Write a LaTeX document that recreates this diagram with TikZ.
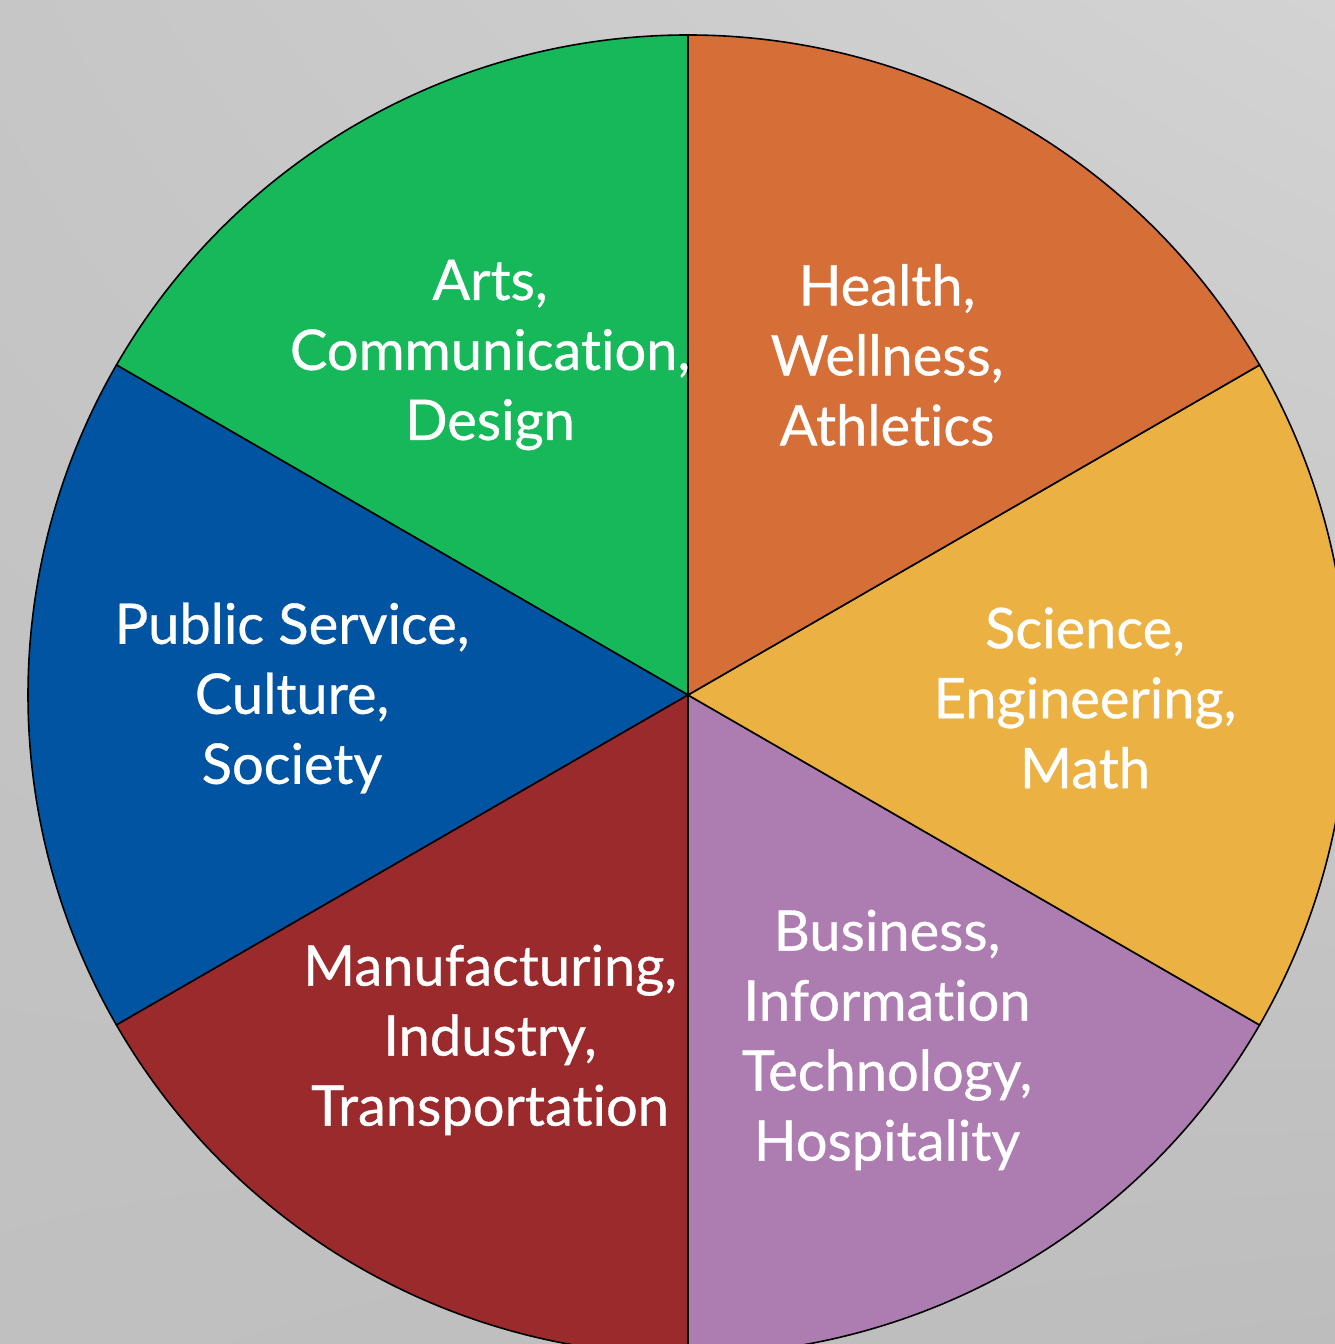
\documentclass[tikz,border=0pt]{standalone}
\usepackage{fontspec}
\setmainfont{Lato}[FakeBold=0.6,Ligatures={NoCommon,NoDiscretionary}]
\usetikzlibrary{shadings}
\definecolor{cgreen}{HTML}{17B85A}
\definecolor{corange}{HTML}{D56F37}
\definecolor{cyellow}{HTML}{EBB143}
\definecolor{cpurple}{HTML}{AD7CB0}
\definecolor{cred}{HTML}{9A2A2B}
\definecolor{cblue}{HTML}{0054A2}
\definecolor{bgtl}{HTML}{C6C6C6}
\definecolor{bgtr}{HTML}{D3D3D3}
\definecolor{bgbl}{HTML}{C0C0C0}
\definecolor{bgbr}{HTML}{BDBDBD}
\begin{document}
\begin{tikzpicture}[x=1pt,y=1pt,
  sector/.style={draw=black,line width=1.6pt,line join=round},
  lbl/.style={text=white,align=center,font=\fontsize{56}{70}\selectfont,inner sep=0pt}]
\useasboundingbox (0,0) rectangle (1335,1344);
\clip (0,0) rectangle (1335,1344);
\shade[upper left=bgtl,upper right=bgtr,lower left=bgbl,lower right=bgbr] (0,0) rectangle (1335,1344);
\coordinate (O) at (688,649);
\filldraw[sector,fill=cgreen] (O) -- ++(90:660) arc[start angle=90,end angle=150,radius=660] -- cycle;
\filldraw[sector,fill=cblue] (O) -- ++(150:660) arc[start angle=150,end angle=210,radius=660] -- cycle;
\filldraw[sector,fill=cred] (O) -- ++(210:660) arc[start angle=210,end angle=270,radius=660] -- cycle;
\filldraw[sector,fill=cpurple] (O) -- ++(270:660) arc[start angle=270,end angle=330,radius=660] -- cycle;
\filldraw[sector,fill=cyellow] (O) -- ++(-30:660) arc[start angle=-30,end angle=30,radius=660] -- cycle;
\filldraw[sector,fill=corange] (O) -- ++(30:660) arc[start angle=30,end angle=90,radius=660] -- cycle;
\node[lbl] (arts) at (490,989) {Arts,\\Communication,\\Design};
\node[lbl] (health) at (887,989) {Health,\\Wellness,\\Athletics};
\node[lbl] (science) at (1085,646) {Science,\\Engineering,\\Math};
\node[lbl] (public) at (292,646) {Public Service,\\Culture,\\Society};
\node[lbl] (manuf) at (490,304) {Manufacturing,\\Industry,\\Transportation};
\node[lbl] (business) at (887,304) {Business,\\Information\\Technology,\\Hospitality};
\end{tikzpicture}
\end{document}
